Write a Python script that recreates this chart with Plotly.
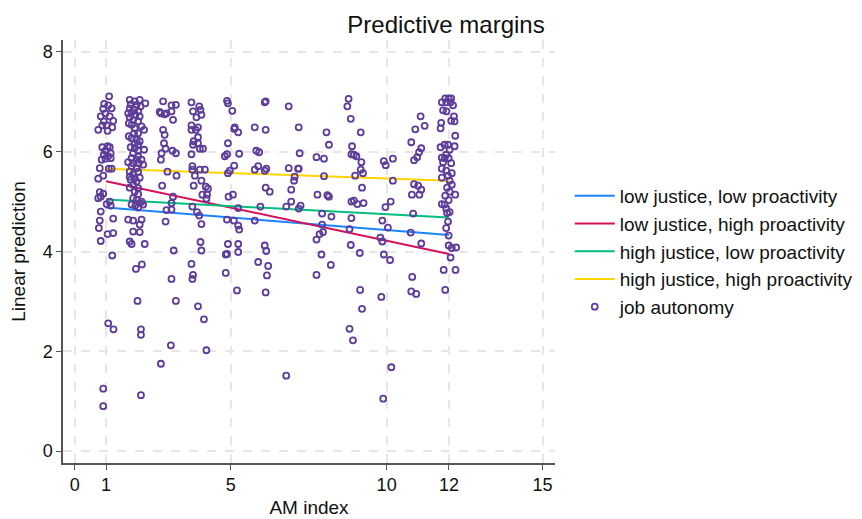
import plotly.graph_objects as go

# Predicted margins at AM index = 1 and 12
line_x = [1, 12]
low_low = [4.88, 4.33]
low_high = [5.41, 3.95]
high_low = [5.04, 4.68]
high_high = [5.66, 5.42]

line_names = ["low justice, low proactivity", "low justice, high proactivity",
              "high justice, low proactivity", "high justice, high proactivity"]
line_values = [low_low, low_high, high_low, high_high]
line_colors = ["#1a85ff", "#d41159", "#00bf7f", "#ffd400"]

# Observed job autonomy vs AM index (jittered)
pts = [
    # around 1
    (1.10,7.11),(0.94,6.96),(1.07,6.93),(1.18,6.87),(0.91,6.86),(0.98,6.77),(0.83,6.71),(1.12,6.71),
    (1.23,6.62),(0.93,6.61),(0.88,6.53),(1.02,6.53),(1.20,6.49),(0.75,6.44),(1.05,6.42),
    (0.88,6.09),(1.05,6.11),(1.12,6.09),(0.98,6.02),(1.15,5.97),(0.93,5.94),(1.07,5.91),(0.86,5.84),
    (0.98,5.86),(1.15,5.87),(0.80,5.67),(1.09,5.66),(1.18,5.66),(0.91,5.52),(0.75,5.46),
    (0.80,5.19),(0.91,5.16),(0.75,5.07),(0.83,5.10),(1.02,4.95),(1.15,4.92),(1.12,5.00),
    (0.83,4.80),(1.23,4.66),(0.80,4.62),(0.77,4.47),(1.05,4.35),(1.23,4.37),(0.83,4.21),(1.20,3.92),
    (1.07,2.56),(1.24,2.44),(0.91,1.25),(0.91,0.90),
    # around 2
    (1.76,7.04),(1.92,7.01),(2.08,7.04),(2.26,6.97),(1.79,6.95),(1.98,6.94),(2.11,6.91),(1.76,6.87),
    (1.90,6.84),(2.03,6.81),(1.71,6.77),(1.82,6.79),(1.94,6.74),(2.08,6.71),(1.76,6.69),(1.87,6.64),
    (2.03,6.61),(1.73,6.57),(1.82,6.54),(2.14,6.51),(1.92,6.47),(2.22,6.44),(2.03,6.37),(1.90,6.37),
    (1.73,6.31),(1.82,6.27),(1.98,6.24),(2.08,6.21),(1.92,6.17),(2.03,6.14),(1.79,6.09),(1.92,6.07),
    (2.22,6.04),(2.03,6.02),(1.87,5.97),(2.03,5.91),(1.82,5.87),(1.98,5.84),(2.14,5.84),(1.71,5.79),
    (1.87,5.77),(2.05,5.77),(2.19,5.74),(1.82,5.71),(1.98,5.67),(1.76,5.60),(2.03,5.60),(1.87,5.55),
    (1.76,5.50),(1.92,5.47),(2.08,5.48),(1.79,5.44),(1.98,5.40),(1.87,5.34),(1.76,5.28),(2.03,5.27),
    (1.92,5.20),(2.03,5.15),(1.87,5.07),(1.98,5.04),(2.14,5.00),(2.08,4.97),(1.94,4.92),(1.82,4.94),
    (2.19,4.94),(2.03,4.88),(1.71,4.64),(1.87,4.62),(2.14,4.64),(2.08,4.54),(1.87,4.40),(2.08,4.39),
    (1.76,4.20),(1.82,4.15),(2.24,4.15),
    (1.96,3.65),(2.15,3.74),(2.01,3.01),(2.12,2.44),(2.12,2.33),(2.12,1.12),(2.76,1.75),
    # around 3
    (2.83,7.01),(2.72,6.80),(2.76,6.77),(2.88,6.75),(2.94,6.77),(2.83,6.44),(2.88,6.34),(2.86,6.17),
    (2.91,6.06),(2.78,5.97),(2.76,5.84),(2.97,5.60),(2.80,5.32),(2.94,4.83),(2.91,4.60),
    (3.10,6.93),(3.24,6.94),(3.10,6.81),(3.15,6.64),(3.13,6.02),(3.24,5.97),(3.26,5.52),(3.15,5.10),
    (3.10,4.97),(3.10,4.84),(3.17,4.02),(3.10,3.45),(3.24,3.01),(3.08,2.12),
    # around 4
    (3.74,6.99),(3.99,6.91),(4.03,6.84),(3.79,6.81),(4.06,6.74),(3.90,6.69),(3.74,6.53),(3.95,6.49),
    (3.74,6.44),(3.88,6.44),(3.95,6.29),(3.81,6.21),(3.95,6.17),(3.79,6.14),(4.01,6.06),(4.11,6.06),
    (3.74,5.95),(3.77,5.71),(3.77,5.64),(4.01,5.64),(4.17,5.64),(3.85,5.52),(4.06,5.42),(3.81,5.32),
    (4.20,5.30),(4.27,5.26),(4.09,5.14),(4.24,5.14),(4.22,5.06),(3.77,4.90),(3.92,4.79),(3.99,4.72),
    (4.06,4.55),(4.03,4.19),(4.06,4.02),(3.74,3.75),(3.79,3.53),(3.77,3.45),(3.95,2.90),(4.14,2.64),
    (4.22,2.02),
    # around 5
    (4.88,7.02),(4.91,6.97),(5.05,6.82),(5.13,6.49),(5.11,6.46),(5.24,6.39),(4.91,6.17),(4.88,5.95),
    (4.81,5.91),(5.27,5.96),(5.11,5.72),(4.97,5.62),(4.91,5.57),(4.93,5.10),(5.07,5.14),(5.24,4.87),
    (4.88,4.64),(5.10,4.62),(5.24,4.52),(5.27,4.44),(4.91,4.15),(5.24,4.15),(4.84,3.94),(4.88,3.95),
    (5.24,3.99),(4.84,3.57),(5.20,3.22),
    # around 6
    (6.09,6.99),(6.12,7.01),(5.77,6.49),(6.12,6.44),(5.82,6.02),(5.91,5.99),(5.88,5.71),(5.77,5.64),
    (6.14,5.66),(6.09,5.62),(6.12,5.28),(6.25,5.20),(5.95,4.90),(5.77,4.62),(6.09,4.12),(6.14,4.01),
    (5.88,3.79),(6.20,3.71),(6.16,3.52),(6.12,3.18),(6.78,1.51),
    # around 7
    (6.86,6.91),(7.18,6.49),(7.21,5.97),(6.86,5.67),(7.16,5.66),(7.18,5.66),(7.05,5.50),(7.03,5.42),
    (6.94,5.24),(6.94,5.00),(6.78,4.90),(7.24,4.92),(7.18,4.86),
    # around 8
    (8.07,6.39),(8.15,6.14),(7.75,5.89),(7.99,5.86),(7.99,5.51),(7.78,5.14),(8.10,5.13),(8.15,5.10),
    (7.93,4.76),(8.23,4.70),(7.93,4.54),(7.96,4.39),(7.85,4.35),(7.75,4.24),(7.91,3.94),(8.21,3.73),
    (7.75,3.53),
    # around 9
    (8.78,7.06),(8.74,6.91),(8.85,6.66),(9.17,6.39),(8.89,6.11),(8.87,5.95),(8.95,5.94),(9.03,5.91),
    (9.19,5.79),(9.17,5.64),(9.24,5.57),(8.99,5.52),(9.21,5.28),(8.87,5.00),(8.95,5.02),(9.06,4.95),
    (9.26,4.97),(8.87,4.67),(8.81,4.45),(8.85,4.13),(9.14,3.97),(9.15,3.23),(9.21,2.85),(8.81,2.45),
    (8.92,2.22),
    # around 10
    (9.91,5.81),(9.97,5.73),(10.20,5.86),(10.20,5.42),(10.13,5.00),(9.96,4.89),(9.86,4.62),(10.04,4.48),
    (9.80,4.28),(9.86,4.20),(9.91,3.94),(10.11,3.83),(9.83,3.09),(10.15,1.68),(9.89,1.05),
    # around 11
    (11.09,6.71),(11.22,6.52),(10.92,6.45),(10.79,6.19),(11.11,6.07),(11.04,5.99),(10.98,5.89),(10.88,5.83),
    (10.88,5.35),(11.01,5.32),(11.11,5.24),(10.81,5.14),(11.05,5.14),(10.85,4.76),(10.77,4.38),(11.11,4.16),
    (10.82,3.49),(10.79,3.20),(10.95,3.15),
    # around 12
    (11.77,6.99),(11.88,7.07),(11.99,7.07),(12.07,7.07),(11.91,6.99),(12.05,6.99),(12.13,6.93),(11.81,6.83),
    (11.92,6.81),(12.16,6.71),(12.07,6.62),(12.18,6.61),(11.75,6.58),(11.73,6.47),(12.20,6.32),(11.86,6.14),
    (11.73,6.09),(11.97,6.14),(12.18,6.11),(12.02,6.04),(11.91,5.94),(11.77,5.88),(11.86,5.87),(11.99,5.87),
    (12.07,5.77),(11.81,5.79),(11.77,5.66),(11.91,5.62),(12.09,5.57),(11.97,5.52),(11.77,5.48),(12.02,5.42),
    (11.94,5.28),(12.09,5.34),(12.02,5.20),(12.20,5.14),(11.88,5.12),(11.99,5.03),(11.77,4.95),(11.86,4.94),
    (11.91,4.86),(11.94,4.77),(12.02,4.79),(11.97,4.60),(11.91,4.47),(11.99,4.32),(11.99,4.12),(12.09,4.07),
    (12.23,4.08),(12.05,3.88),(11.83,3.63),(12.21,3.63),(11.88,3.23),
]
am_index = [p[0] for p in pts]
job_autonomy = [p[1] for p in pts]

x_ticks = [0, 1, 5, 10, 12, 15]
y_ticks = [0, 2, 4, 6, 8]

fig = go.Figure()
for name, vals, col in zip(line_names, line_values, line_colors):
    fig.add_trace(go.Scatter(x=line_x, y=vals, mode="lines", name=name,
                             line=dict(color=col, width=2)))
fig.add_trace(go.Scatter(x=am_index, y=job_autonomy, mode="markers", name="job autonomy",
                         marker=dict(symbol="circle-open", size=6, color="#5e3c99",
                                     line=dict(width=1.8, color="#5e3c99"))))

font = "Liberation Sans, Arial, sans-serif"
fig.update_layout(
    width=862, height=519,
    margin=dict(l=63, r=307, t=40, b=56, autoexpand=False),
    paper_bgcolor="white", plot_bgcolor="white",
    font=dict(family=font, size=18, color="#111"),
    title=dict(text="Predictive margins", x=446/862, xref="container", xanchor="center",
               y=1 - 25/519, yref="container", yanchor="middle",
               font=dict(size=24, family=font, color="#111")),
    showlegend=True,
    legend=dict(x=1.03, xanchor="left", y=0.50, yanchor="middle",
                font=dict(size=19, family=font), bgcolor="rgba(0,0,0,0)",
                itemwidth=40, tracegroupgap=0),
    xaxis=dict(range=[-0.38, 15.4], tickvals=x_ticks, ticktext=[str(v) for v in x_ticks],
               showgrid=True, gridcolor="#e6e6e6", griddash="dash", gridwidth=1.5,
               zeroline=False, showline=True, linecolor="#555", linewidth=1.5,
               ticks="outside", ticklen=5, tickcolor="#555", tickwidth=1.2,
               tickfont=dict(size=18), automargin=False,
               title=dict(text="AM index", font=dict(size=19), standoff=6)),
    yaxis=dict(range=[-0.24, 8.24], tickvals=y_ticks, ticktext=[str(v) for v in y_ticks],
               showgrid=True, gridcolor="#e6e6e6", griddash="dash", gridwidth=1.5,
               zeroline=False, showline=True, linecolor="#555", linewidth=1.5,
               ticks="outside", ticklen=5, tickcolor="#555", tickwidth=1.2,
               tickfont=dict(size=18), automargin=False,
               title=dict(text="Linear prediction", font=dict(size=19), standoff=12)),
)

fig.write_html("out.html")
